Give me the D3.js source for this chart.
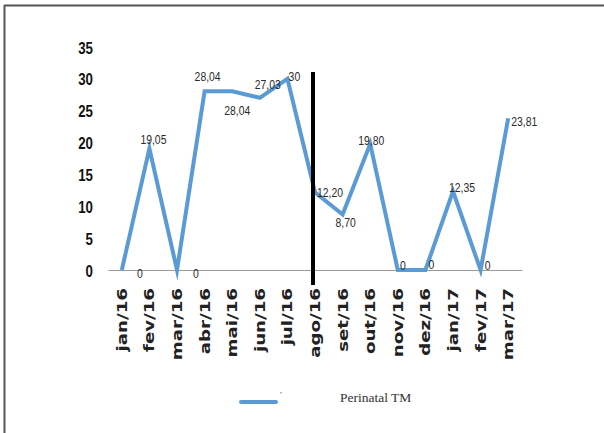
<!DOCTYPE html>
<html>
<head>
<meta charset="utf-8">
<script src="https://cdn.jsdelivr.net/npm/d3@7"></script>
<style>
  html, body { margin: 0; padding: 0; background: #fff; }
  svg { display: block; }
</style>
</head>
<body>
<svg id="chart" width="604" height="433"></svg>
<script>
// Monthly perinatal mortality rate (TM), Jan/2016 – Mar/2017
const months = ["jan/16", "fev/16", "mar/16", "abr/16", "mai/16", "jun/16", "jul/16",
                "ago/16", "set/16", "out/16", "nov/16", "dez/16", "jan/17", "fev/17", "mar/17"];
const perinatalTM = [0, 19.05, 0, 28.04, 28.04, 27.03, 30, 12.20, 8.70, 19.80, 0, 0, 12.35, 0, 23.81];
const yTicks = [0, 5, 10, 15, 20, 25, 30, 35];
const seriesName = "Perinatal TM";
const markerMonth = "ago/16";

// label nudges (dx, dy) relative to each point
const labelOffsets = [[18, 3], [4, -9], [19, 3], [3, -15], [5, 19], [8, -13], [7, -3],
                      [15, 0], [3, 8], [1, -4], [5, -5], [6, -6], [9, -4], [7, -5], [16, 3]];

const svg = d3.select("#chart");
const blue = "#5b9bd5";
const sans = "'Liberation Sans', Arial, sans-serif";

// outer frame (top and left edges)
svg.append("line").attr("x1", 4).attr("x2", 604).attr("y1", 5.5).attr("y2", 5.5)
  .attr("stroke", "#555").attr("stroke-width", 2);
svg.append("line").attr("x1", 4.5).attr("x2", 4.5).attr("y1", 5).attr("y2", 433)
  .attr("stroke", "#555").attr("stroke-width", 2);

const x = d3.scaleBand().domain(months).range([108, 522]);
const y = d3.scaleLinear().domain([0, 35]).range([270, 47]);
const cx = m => x(m) + x.bandwidth() / 2;

// y axis (labels only, condensed)
const yAxis = svg.append("g").attr("transform", "translate(93,0)")
  .call(d3.axisLeft(y).tickValues(yTicks).tickSize(0).tickPadding(0).tickFormat(d3.format("d")));
yAxis.select(".domain").remove();
yAxis.selectAll(".tick text")
  .attr("x", 0).attr("dy", "0.36em")
  .attr("transform", "scale(0.78,1)")
  .attr("font-family", sans).attr("font-weight", "bold").attr("font-size", 17)
  .attr("fill", "#111");

// x axis
const xAxis = svg.append("g").attr("transform", "translate(0,270)")
  .call(d3.axisBottom(x).tickSize(0).tickPadding(0));
xAxis.select(".domain").attr("stroke", "#9a9a9a").attr("stroke-width", 1.2);
xAxis.selectAll("text")
  .attr("font-family", "'DejaVu Sans', sans-serif").attr("font-weight", "bold")
  .attr("font-size", 14).attr("fill", "#222")
  .attr("text-anchor", "end")
  .attr("y", 0).attr("dy", 0)
  .attr("transform", "translate(5,18) rotate(-90) scale(1.3,1)");

// series line
const line = d3.line()
  .x((d, i) => cx(months[i]))
  .y(d => y(d));
svg.append("path").datum(perinatalTM)
  .attr("d", line)
  .attr("fill", "none").attr("stroke", blue).attr("stroke-width", 4)
  .attr("stroke-linejoin", "miter").attr("stroke-miterlimit", 6);

// vertical marker line
svg.append("line")
  .attr("x1", cx(markerMonth) - 2).attr("x2", cx(markerMonth) - 2)
  .attr("y1", 72).attr("y2", 285)
  .attr("stroke", "#000").attr("stroke-width", 4);

// value labels (condensed)
const fmt = v => Number.isInteger(v) ? String(v) : v.toFixed(2).replace(".", ",");
svg.append("g").selectAll("text").data(perinatalTM).join("text")
  .attr("transform", (d, i) =>
    `translate(${cx(months[i]) + labelOffsets[i][0]},${y(d) + labelOffsets[i][1]}) scale(0.8,1)`)
  .attr("dy", "0.36em")
  .attr("text-anchor", "middle")
  .attr("font-family", sans).attr("font-size", 13).attr("fill", "#2a2a2a")
  .text(fmt);

// legend
svg.append("line").attr("x1", 241).attr("x2", 276).attr("y1", 402).attr("y2", 402)
  .attr("stroke", blue).attr("stroke-width", 4).attr("stroke-linecap", "round");
svg.append("text").attr("x", 280).attr("y", 398)
  .attr("font-family", "'Liberation Serif', serif").attr("font-size", 9).attr("fill", "#666")
  .text("'");
svg.append("text").attr("x", 340).attr("y", 402)
  .attr("font-family", "'Liberation Serif', serif").attr("font-size", 13.5).attr("fill", "#333")
  .text(seriesName);
</script>
</body>
</html>
